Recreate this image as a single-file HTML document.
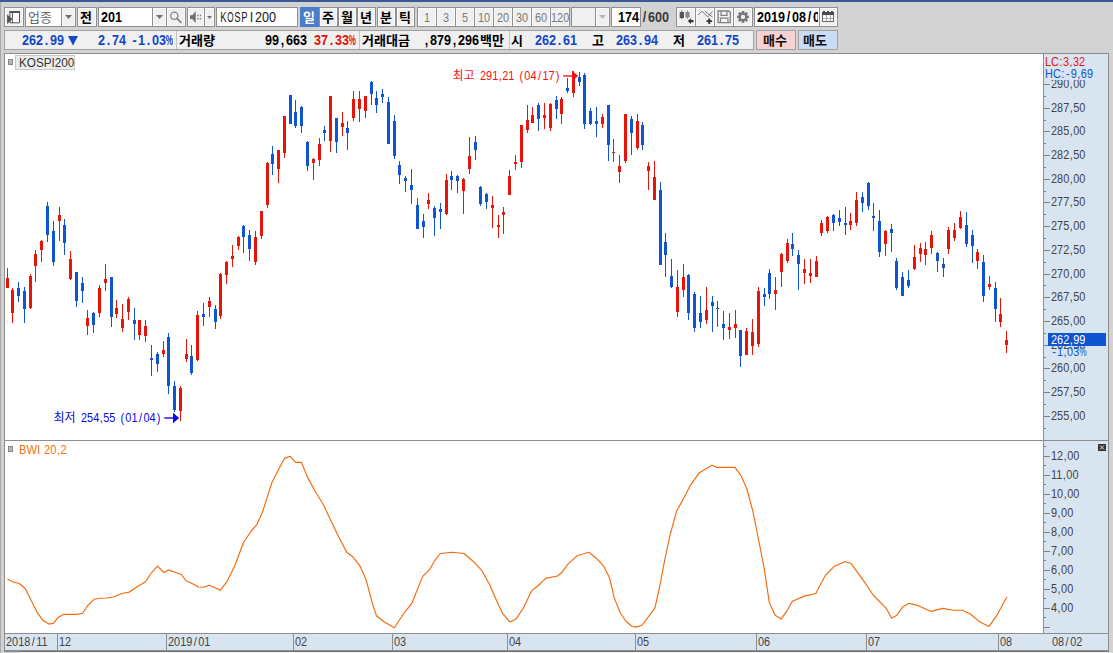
<!DOCTYPE html><html lang="ko"><head><meta charset="utf-8"><title>KOSPI200</title><style>
*{margin:0;padding:0;box-sizing:border-box}
html,body{width:1113px;height:653px;overflow:hidden}
body{position:relative;background:#d2d2d2;font-family:"Liberation Sans",sans-serif;font-size:12px;color:#000}
.abs,.k,.t{position:absolute}
.k{overflow:visible}
.t{white-space:nowrap;line-height:1}
.bx{position:absolute;border:1px solid #8e8e8e}
i{font-style:normal;display:inline-block;text-align:center}
.k text{font-family:"Liberation Sans","Noto Sans CJK KR",sans-serif}
</style></head><body>
<div class="abs" style="left:0;top:0;width:1113px;height:2px;background:#3a5896"></div>
<div class="abs" style="left:0;top:2px;width:1px;height:651px;background:#a9a9a9"></div>
<div class="abs" style="left:4px;top:53px;width:1105px;height:599px;background:#fff;border:1px solid #8c8c8c"></div>
<div class="abs" style="left:1043px;top:54px;width:65px;height:597px;background:#d9e4f1;border-left:1px solid #8e8e8e"></div>
<div class="abs" style="left:5px;top:440px;width:1103px;height:1px;background:#8e8e8e"></div>
<div class="abs" style="left:5px;top:633px;width:1103px;height:18px;background:#d9e4f1;border-top:1px solid #8e8e8e;border-bottom:1px solid #8e8e8e"></div>
<svg class="abs" style="left:0;top:0" width="1113" height="653" viewBox="0 0 1113 653" shape-rendering="crispEdges"><path fill="#e8140a" d="M7 268h1v20h-1zM6 278h3v10h-3zM12 288h1v35h-1zM11 290h3v23h-3zM30 274h1v35h-1zM29 276h3v32h-3zM35 250h1v32h-1zM34 254h3v12h-3zM41 240h1v22h-1zM40 241h3v9h-3zM59 207h1v34h-1zM58 215h3v6h-3zM70 251h1v29h-1zM69 259h3v20h-3zM87 310h1v25h-1zM86 318h3v8h-3zM99 285h1v32h-1zM98 288h3v25h-3zM105 264h1v27h-1zM104 279h3v4h-3zM116 300h1v18h-1zM115 308h3v6h-3zM122 304h1v28h-1zM121 319h3v9h-3zM128 297h1v23h-1zM127 299h3v13h-3zM139 320h1v20h-1zM138 320h3v15h-3zM145 320h1v22h-1zM144 326h3v10h-3zM163 341h1v16h-1zM162 350h3v4h-3zM180 386h1v35h-1zM179 388h3v23h-3zM186 339h1v23h-1zM185 354h3v5h-3zM197 311h1v50h-1zM196 315h3v45h-3zM209 297h1v20h-1zM208 301h3v6h-3zM220 273h1v46h-1zM219 274h3v42h-3zM226 261h1v23h-1zM225 262h3v13h-3zM232 245h1v22h-1zM231 256h3v3h-3zM238 236h1v14h-1zM237 237h3v9h-3zM255 231h1v34h-1zM254 237h3v25h-3zM261 211h1v28h-1zM260 211h3v25h-3zM267 162h1v46h-1zM266 163h3v42h-3zM278 150h1v33h-1zM277 150h3v19h-3zM284 116h1v42h-1zM283 116h3v37h-3zM313 158h1v22h-1zM312 159h3v4h-3zM319 138h1v28h-1zM318 144h3v16h-3zM330 96h1v56h-1zM329 96h3v45h-3zM342 112h1v24h-1zM341 123h3v4h-3zM353 91h1v30h-1zM352 99h3v19h-3zM359 91h1v31h-1zM358 99h3v10h-3zM365 96h1v22h-1zM364 96h3v15h-3zM428 193h1v16h-1zM427 200h3v4h-3zM446 174h1v41h-1zM445 180h3v34h-3zM463 178h1v36h-1zM462 179h3v12h-3zM469 137h1v37h-1zM468 156h3v13h-3zM492 196h1v32h-1zM491 205h3v3h-3zM498 215h1v23h-1zM497 225h3v2h-3zM503 207h1v27h-1zM502 212h3v3h-3zM509 170h1v25h-1zM508 176h3v19h-3zM515 155h1v15h-1zM514 162h3v2h-3zM521 125h1v43h-1zM520 125h3v37h-3zM527 105h1v28h-1zM526 120h3v10h-3zM532 107h1v16h-1zM531 115h3v8h-3zM544 103h1v26h-1zM543 115h3v3h-3zM550 103h1v28h-1zM549 104h3v24h-3zM561 97h1v27h-1zM560 99h3v15h-3zM573 71h1v26h-1zM572 77h3v16h-3zM602 114h1v14h-1zM601 117h3v7h-3zM613 139h1v23h-1zM612 152h3v1h-3zM619 155h1v28h-1zM618 166h3v6h-3zM625 114h1v49h-1zM624 114h3v47h-3zM637 114h1v36h-1zM636 121h3v27h-3zM648 162h1v28h-1zM647 166h3v5h-3zM654 161h1v39h-1zM653 177h3v23h-3zM677 270h1v47h-1zM676 287h3v25h-3zM683 264h1v33h-1zM682 277h3v13h-3zM706 287h1v37h-1zM705 310h3v10h-3zM729 313h1v26h-1zM728 327h3v3h-3zM735 310h1v28h-1zM734 324h3v4h-3zM746 328h1v27h-1zM745 331h3v24h-3zM752 319h1v36h-1zM751 332h3v14h-3zM758 287h1v60h-1zM757 291h3v53h-3zM775 277h1v33h-1zM774 290h3v4h-3zM781 253h1v34h-1zM780 254h3v18h-3zM787 239h1v24h-1zM786 243h3v18h-3zM804 259h1v25h-1zM803 269h3v4h-3zM810 259h1v24h-1zM809 273h3v3h-3zM816 256h1v21h-1zM815 261h3v16h-3zM821 220h1v16h-1zM820 223h3v10h-3zM827 216h1v17h-1zM826 217h3v14h-3zM850 213h1v17h-1zM849 221h3v4h-3zM856 192h1v34h-1zM855 200h3v23h-3zM885 230h1v26h-1zM884 231h3v13h-3zM914 245h1v25h-1zM913 257h3v12h-3zM920 243h1v19h-1zM919 248h3v6h-3zM925 242h1v23h-1zM924 249h3v6h-3zM931 231h1v23h-1zM930 235h3v13h-3zM948 227h1v27h-1zM947 230h3v19h-3zM954 223h1v18h-1zM953 230h3v8h-3zM960 211h1v18h-1zM959 217h3v11h-3zM977 249h1v20h-1zM976 252h3v9h-3zM989 276h1v14h-1zM988 284h3v3h-3zM1000 298h1v29h-1zM999 314h3v8h-3zM1006 331h1v22h-1zM1005 340h3v5h-3z"/><path fill="#0f55cf" d="M18 282h1v20h-1zM17 288h3v8h-3zM24 287h1v36h-1zM23 291h3v18h-3zM47 202h1v40h-1zM46 206h3v29h-3zM53 221h1v45h-1zM52 231h3v31h-3zM64 219h1v36h-1zM63 225h3v18h-3zM76 272h1v35h-1zM75 272h3v29h-3zM82 277h1v26h-1zM81 283h3v8h-3zM93 312h1v21h-1zM92 313h3v12h-3zM111 277h1v50h-1zM110 277h3v40h-3zM134 308h1v32h-1zM133 320h3v4h-3zM151 345h1v31h-1zM150 358h3v2h-3zM157 352h1v20h-1zM156 354h3v10h-3zM168 333h1v61h-1zM167 337h3v49h-3zM174 381h1v31h-1zM173 386h3v24h-3zM191 345h1v30h-1zM190 356h3v17h-3zM203 303h1v23h-1zM202 314h3v3h-3zM215 305h1v24h-1zM214 309h3v13h-3zM243 225h1v28h-1zM242 226h3v11h-3zM249 230h1v31h-1zM248 235h3v14h-3zM272 146h1v29h-1zM271 154h3v10h-3zM290 95h1v29h-1zM289 95h3v29h-3zM295 100h1v28h-1zM294 112h3v14h-3zM301 106h1v27h-1zM300 107h3v19h-3zM307 141h1v30h-1zM306 142h3v24h-3zM324 126h1v15h-1zM323 130h3v3h-3zM336 118h1v35h-1zM335 118h3v24h-3zM347 121h1v29h-1zM346 128h3v5h-3zM371 81h1v24h-1zM370 82h3v12h-3zM376 91h1v22h-1zM375 98h3v7h-3zM382 89h1v14h-1zM381 94h3v3h-3zM388 97h1v47h-1zM387 102h3v42h-3zM394 115h1v44h-1zM393 121h3v35h-3zM399 161h1v23h-1zM398 165h3v10h-3zM405 176h1v16h-1zM404 178h3v3h-3zM411 169h1v35h-1zM410 185h3v5h-3zM417 198h1v31h-1zM416 205h3v24h-3zM423 214h1v24h-1zM422 221h3v6h-3zM434 206h1v30h-1zM433 208h3v10h-3zM440 203h1v26h-1zM439 209h3v3h-3zM451 171h1v19h-1zM450 176h3v4h-3zM457 175h1v18h-1zM456 176h3v5h-3zM475 136h1v24h-1zM474 142h3v8h-3zM480 186h1v20h-1zM479 187h3v17h-3zM486 193h1v16h-1zM485 194h3v8h-3zM538 103h1v28h-1zM537 105h3v14h-3zM556 96h1v23h-1zM555 100h3v9h-3zM567 78h1v15h-1zM566 88h3v3h-3zM579 72h1v14h-1zM578 77h3v5h-3zM584 73h1v56h-1zM583 75h3v49h-3zM590 108h1v17h-1zM589 111h3v13h-3zM596 107h1v30h-1zM595 121h3v3h-3zM608 105h1v56h-1zM607 105h3v40h-3zM631 116h1v39h-1zM630 119h3v14h-3zM642 122h1v28h-1zM641 125h3v20h-3zM660 182h1v83h-1zM659 190h3v75h-3zM665 233h1v44h-1zM664 242h3v13h-3zM671 259h1v29h-1zM670 276h3v11h-3zM688 274h1v46h-1zM687 275h3v38h-3zM694 292h1v40h-1zM693 294h3v34h-3zM700 296h1v32h-1zM699 313h3v9h-3zM712 296h1v36h-1zM711 302h3v4h-3zM717 301h1v26h-1zM716 308h3v1h-3zM723 311h1v29h-1zM722 324h3v4h-3zM740 330h1v37h-1zM739 330h3v26h-3zM764 288h1v18h-1zM763 294h3v3h-3zM769 269h1v30h-1zM768 273h3v21h-3zM792 233h1v23h-1zM791 244h3v5h-3zM798 250h1v40h-1zM797 255h3v9h-3zM833 214h1v17h-1zM832 215h3v8h-3zM839 210h1v16h-1zM838 218h3v4h-3zM845 207h1v28h-1zM844 223h3v2h-3zM862 192h1v20h-1zM861 197h3v6h-3zM868 182h1v28h-1zM867 183h3v23h-3zM873 203h1v28h-1zM872 216h3v2h-3zM879 210h1v47h-1zM878 221h3v31h-3zM891 224h1v28h-1zM890 229h3v4h-3zM896 258h1v32h-1zM895 261h3v27h-3zM902 272h1v24h-1zM901 277h3v19h-3zM908 270h1v18h-1zM907 280h3v6h-3zM937 252h1v20h-1zM936 253h3v8h-3zM943 258h1v19h-1zM942 264h3v4h-3zM966 212h1v35h-1zM965 225h3v19h-3zM972 230h1v33h-1zM971 235h3v11h-3zM983 255h1v47h-1zM982 262h3v34h-3zM995 282h1v40h-1zM994 288h3v21h-3z"/><polyline fill="none" stroke="#f26a0a" stroke-width="1.15" stroke-linejoin="round" shape-rendering="auto" points="7.4,579.0 13.4,582.0 19.3,583.5 25.2,588.5 31.2,600.4 37.1,612.3 43.1,620.6 49.0,624.1 53.5,623.3 57.9,617.6 63.9,614.3 77.2,614.3 82.6,613.2 87.6,605.7 94.4,599.2 99.5,598.3 106.9,598.0 114.3,596.8 121.8,593.5 129.2,592.1 137.2,586.7 145.5,581.7 151.5,572.8 157.4,566.2 163.9,572.5 168.4,570.1 175.2,572.2 181.2,574.5 186.2,580.8 193.0,584.0 198.4,587.0 203.4,587.3 209.4,585.2 220.4,590.3 227.2,581.1 234.6,566.2 243.5,542.5 250.9,531.5 256.9,524.6 262.8,511.3 271.7,483.1 279.2,468.2 284.5,458.4 290.2,456.3 295.5,462.3 301.4,462.3 307.4,477.1 314.8,490.5 323.7,505.3 328.9,516.6 337.8,535.0 346.7,552.3 352.7,556.7 360.1,566.2 366.0,579.6 372.0,601.9 376.4,615.8 383.9,621.8 394.3,627.7 404.6,612.3 412.1,602.8 422.5,576.6 429.9,569.2 434.3,561.2 440.3,553.5 452.2,552.3 464.0,553.5 473.0,561.2 481.9,570.7 489.3,584.0 495.2,597.4 502.7,613.7 510.1,622.0 516.0,619.1 523.5,607.8 531.5,590.9 538.3,585.5 545.7,578.4 557.6,576.0 562.1,572.2 568.0,564.1 576.9,555.8 588.8,552.3 596.2,558.2 603.7,566.2 609.6,578.1 614.1,597.4 620.0,612.3 625.9,621.2 631.9,626.2 636.3,627.1 642.3,625.0 647.4,618.2 654.9,607.8 659.3,588.5 663.8,564.7 669.7,536.5 676.5,511.3 683.1,499.4 690.5,485.1 699.4,472.7 712.2,465.2 716.6,467.3 735.0,467.3 741.0,475.6 746.9,489.0 752.9,511.3 758.8,541.0 764.1,567.7 769.2,601.9 775.1,615.2 781.1,619.1 787.0,610.8 792.4,601.3 804.8,595.9 815.8,593.5 825.6,575.1 834.5,566.2 844.9,561.8 850.9,563.3 862.8,579.6 873.1,595.0 886.5,608.7 891.6,618.2 896.9,615.2 902.8,606.9 908.8,603.3 917.7,605.4 931.1,611.4 942.9,608.4 953.3,610.2 962.2,610.2 970.0,613.7 980.0,622.1 989.0,626.4 996.8,615.4 1006.8,597.0"/><path fill="#808080" d="M1044 428h2v1h-2zM1044 416h6v1h-6zM1044 404h2v1h-2zM1044 392h6v1h-6zM1044 380h2v1h-2zM1044 368h6v1h-6zM1044 357h2v1h-2zM1044 345h6v1h-6zM1044 333h2v1h-2zM1044 321h6v1h-6zM1044 309h2v1h-2zM1044 297h6v1h-6zM1044 285h2v1h-2zM1044 274h6v1h-6zM1044 262h2v1h-2zM1044 250h6v1h-6zM1044 238h2v1h-2zM1044 226h6v1h-6zM1044 214h2v1h-2zM1044 202h6v1h-6zM1044 191h2v1h-2zM1044 179h6v1h-6zM1044 167h2v1h-2zM1044 155h6v1h-6zM1044 143h2v1h-2zM1044 131h6v1h-6zM1044 120h2v1h-2zM1044 108h6v1h-6zM1044 96h2v1h-2zM1044 84h6v1h-6zM1044 627h6v1h-6zM1044 617h2v1h-2zM1044 608h6v1h-6zM1044 598h2v1h-2zM1044 589h6v1h-6zM1044 579h2v1h-2zM1044 570h6v1h-6zM1044 560h2v1h-2zM1044 551h6v1h-6zM1044 541h2v1h-2zM1044 532h6v1h-6zM1044 522h2v1h-2zM1044 513h6v1h-6zM1044 503h2v1h-2zM1044 494h6v1h-6zM1044 484h2v1h-2zM1044 475h6v1h-6zM1044 465h2v1h-2zM1044 456h6v1h-6zM1044 446h2v1h-2z"/><path fill="#8e8e8e" d="M57 634h1v17h-1zM166 634h1v17h-1zM293 634h1v17h-1zM392 634h1v17h-1zM507 634h1v17h-1zM635 634h1v17h-1zM756 634h1v17h-1zM866 634h1v17h-1zM998 634h1v17h-1z"/></svg>
<div class="t" style="left:1051.1px;top:408.63px;font-size:13px;color:#444;transform:scaleX(0.84);transform-origin:0 0;">255<i style="width:4.76px">,</i>00</div>
<div class="t" style="left:1051.1px;top:384.63px;font-size:13px;color:#444;transform:scaleX(0.84);transform-origin:0 0;">257<i style="width:4.76px">,</i>50</div>
<div class="t" style="left:1051.1px;top:360.63px;font-size:13px;color:#444;transform:scaleX(0.84);transform-origin:0 0;">260<i style="width:4.76px">,</i>00</div>
<div class="t" style="left:1051.1px;top:337.63px;font-size:13px;color:#444;transform:scaleX(0.84);transform-origin:0 0;">262<i style="width:4.76px">,</i>50</div>
<div class="t" style="left:1051.1px;top:313.63px;font-size:13px;color:#444;transform:scaleX(0.84);transform-origin:0 0;">265<i style="width:4.76px">,</i>00</div>
<div class="t" style="left:1051.1px;top:289.63px;font-size:13px;color:#444;transform:scaleX(0.84);transform-origin:0 0;">267<i style="width:4.76px">,</i>50</div>
<div class="t" style="left:1051.1px;top:266.63px;font-size:13px;color:#444;transform:scaleX(0.84);transform-origin:0 0;">270<i style="width:4.76px">,</i>00</div>
<div class="t" style="left:1051.1px;top:242.63px;font-size:13px;color:#444;transform:scaleX(0.84);transform-origin:0 0;">272<i style="width:4.76px">,</i>50</div>
<div class="t" style="left:1051.1px;top:218.63px;font-size:13px;color:#444;transform:scaleX(0.84);transform-origin:0 0;">275<i style="width:4.76px">,</i>00</div>
<div class="t" style="left:1051.1px;top:194.63px;font-size:13px;color:#444;transform:scaleX(0.84);transform-origin:0 0;">277<i style="width:4.76px">,</i>50</div>
<div class="t" style="left:1051.1px;top:171.63px;font-size:13px;color:#444;transform:scaleX(0.84);transform-origin:0 0;">280<i style="width:4.76px">,</i>00</div>
<div class="t" style="left:1051.1px;top:147.63px;font-size:13px;color:#444;transform:scaleX(0.84);transform-origin:0 0;">282<i style="width:4.76px">,</i>50</div>
<div class="t" style="left:1051.1px;top:123.63px;font-size:13px;color:#444;transform:scaleX(0.84);transform-origin:0 0;">285<i style="width:4.76px">,</i>00</div>
<div class="t" style="left:1051.1px;top:100.63px;font-size:13px;color:#444;transform:scaleX(0.84);transform-origin:0 0;">287<i style="width:4.76px">,</i>50</div>
<div class="t" style="left:1051.1px;top:76.63px;font-size:13px;color:#444;transform:scaleX(0.84);transform-origin:0 0;">290<i style="width:4.76px">,</i>00</div>
<div class="t" style="left:1051.1px;top:600.63px;font-size:13px;color:#444;transform:scaleX(0.84);transform-origin:0 0;">4<i style="width:4.76px">,</i>00</div>
<div class="t" style="left:1051.1px;top:581.63px;font-size:13px;color:#444;transform:scaleX(0.84);transform-origin:0 0;">5<i style="width:4.76px">,</i>00</div>
<div class="t" style="left:1051.1px;top:562.63px;font-size:13px;color:#444;transform:scaleX(0.84);transform-origin:0 0;">6<i style="width:4.76px">,</i>00</div>
<div class="t" style="left:1051.1px;top:543.63px;font-size:13px;color:#444;transform:scaleX(0.84);transform-origin:0 0;">7<i style="width:4.76px">,</i>00</div>
<div class="t" style="left:1051.1px;top:524.63px;font-size:13px;color:#444;transform:scaleX(0.84);transform-origin:0 0;">8<i style="width:4.76px">,</i>00</div>
<div class="t" style="left:1051.1px;top:505.63px;font-size:13px;color:#444;transform:scaleX(0.84);transform-origin:0 0;">9<i style="width:4.76px">,</i>00</div>
<div class="t" style="left:1051.1px;top:486.63px;font-size:13px;color:#444;transform:scaleX(0.84);transform-origin:0 0;">10<i style="width:4.76px">,</i>00</div>
<div class="t" style="left:1051.1px;top:467.63px;font-size:13px;color:#444;transform:scaleX(0.84);transform-origin:0 0;">11<i style="width:4.76px">,</i>00</div>
<div class="t" style="left:1051.1px;top:448.63px;font-size:13px;color:#444;transform:scaleX(0.84);transform-origin:0 0;">12<i style="width:4.76px">,</i>00</div>
<div class="t" style="left:1045px;top:55.03px;font-size:13px;color:#e8140a;transform:scaleX(0.84);transform-origin:0 0;">LC<i style="width:4.76px">:</i>3<i style="width:4.76px">,</i>32</div>
<div class="t" style="left:1045px;top:67.03px;font-size:13px;color:#0f55cf;transform:scaleX(0.84);transform-origin:0 0;background:#d9e4f1;">HC<i style="width:4.76px">:</i><i style="width:7.14px">-</i>9<i style="width:4.76px">,</i>69</div>
<div class="abs" style="left:1048px;top:333px;width:58px;height:13px;background:#0f55cf"></div>
<div class="t" style="left:1051px;top:333.03px;font-size:13px;color:#fff;transform:scaleX(0.84);transform-origin:0 0;">262<i style="width:4.76px">,</i>99</div>
<div class="t" style="left:1051px;top:345.03px;font-size:13px;color:#0f55cf;transform:scaleX(0.84);transform-origin:0 0;"><i style="width:7.14px">-</i>1<i style="width:4.76px">,</i>03<i style="width:8.93px;text-align:left"><i style="transform:scaleX(.74);transform-origin:0 0">%</i></i></div>
<div class="t" style="left:6px;top:634.53px;font-size:13px;color:#444;transform:scaleX(0.84);transform-origin:0 0;">2018<i style="width:7.14px">/</i>11</div>
<div class="t" style="left:59px;top:634.53px;font-size:13px;color:#444;transform:scaleX(0.84);transform-origin:0 0;">12</div>
<div class="t" style="left:168px;top:634.53px;font-size:13px;color:#444;transform:scaleX(0.84);transform-origin:0 0;">2019<i style="width:7.14px">/</i>01</div>
<div class="t" style="left:295px;top:634.53px;font-size:13px;color:#444;transform:scaleX(0.84);transform-origin:0 0;">02</div>
<div class="t" style="left:394px;top:634.53px;font-size:13px;color:#444;transform:scaleX(0.84);transform-origin:0 0;">03</div>
<div class="t" style="left:509px;top:634.53px;font-size:13px;color:#444;transform:scaleX(0.84);transform-origin:0 0;">04</div>
<div class="t" style="left:637px;top:634.53px;font-size:13px;color:#444;transform:scaleX(0.84);transform-origin:0 0;">05</div>
<div class="t" style="left:758px;top:634.53px;font-size:13px;color:#444;transform:scaleX(0.84);transform-origin:0 0;">06</div>
<div class="t" style="left:868px;top:634.53px;font-size:13px;color:#444;transform:scaleX(0.84);transform-origin:0 0;">07</div>
<div class="t" style="left:1000px;top:634.53px;font-size:13px;color:#444;transform:scaleX(0.84);transform-origin:0 0;">08</div>
<div class="t" style="left:1051.5px;top:634.53px;font-size:13px;color:#444;transform:scaleX(0.84);transform-origin:0 0;">08<i style="width:7.14px">/</i>02</div>
<div class="bx" style="left:4px;top:7px;width:20px;height:20px;background:#f0f0f0;border-color:#8f8f8f;box-shadow:inset 0 0 0 1px #fafafa;"></div>
<svg class="k" style="left:4px;top:7px" width="20" height="20" viewBox="0 0 20 20"><path d="M5.9 4.8h9.6v11h-9.6z" fill="#fff" stroke="#555" stroke-width="1"/><path d="M5.4 4h10.6v2h-10.6z" fill="#555"/><path d="M8.4 5v11" stroke="#555" stroke-width="1"/><path d="M3.1 7.3v9.8l5.3-4.9z" fill="#505050"/></svg>
<div class="bx" style="left:25px;top:7px;width:51px;height:20px;background:#fff;border-color:#8f8f8f;"></div>
<div class="bx" style="left:61px;top:7px;width:15px;height:20px;background:#f0f0f0;border-color:#8f8f8f;box-shadow:inset 0 0 0 1px #fafafa;"></div>
<svg class="k" style="left:65.0px;top:15.0px" width="7" height="4" viewBox="0 0 7 4"><path d="M0 0h7L3.5 4z" fill="#707070"/></svg>
<svg class="k" role="img" aria-label="업종" style="left:28px;top:8.399999999999999px" width="28" height="19" viewBox="0 -14 28 19"><text x="0" y="0" font-size="13" fill="#666">업종</text></svg>
<div class="bx" style="left:77px;top:7px;width:20px;height:20px;background:#f0f0f0;border-color:#8f8f8f;box-shadow:inset 0 0 0 1px #fafafa;"></div>
<svg class="k" role="img" aria-label="전" style="left:80.0px;top:8.3px" width="16" height="19" viewBox="0 -14 16 19"><text x="0" y="0" font-size="13" font-weight="bold" fill="#000">전</text></svg>
<div class="bx" style="left:98px;top:7px;width:69px;height:20px;background:#fff;border-color:#8f8f8f;"></div>
<div class="bx" style="left:152px;top:7px;width:15px;height:20px;background:#f0f0f0;border-color:#8f8f8f;box-shadow:inset 0 0 0 1px #fafafa;"></div>
<svg class="k" style="left:156.0px;top:15.0px" width="7" height="4" viewBox="0 0 7 4"><path d="M0 0h7L3.5 4z" fill="#707070"/></svg>
<div class="t" style="left:100.6px;top:10.29px;font-size:14.5px;font-weight:bold;color:#000;transform:scaleX(0.8683);transform-origin:0 0">201</div>
<div class="bx" style="left:166px;top:7px;width:20px;height:20px;background:#f0f0f0;border-color:#8f8f8f;box-shadow:inset 0 0 0 1px #fafafa;"></div>
<svg class="k" style="left:166px;top:7px" width="20" height="20" viewBox="0 0 20 20"><circle cx="8.3" cy="8.7" r="3.6" fill="none" stroke="#858585" stroke-width="1.3"/><path d="M10.9 11.4l4 4" stroke="#858585" stroke-width="1.8" stroke-linecap="round"/></svg>
<div class="bx" style="left:187px;top:7px;width:18px;height:20px;background:#f0f0f0;border-color:#8f8f8f;box-shadow:inset 0 0 0 1px #fafafa;"></div>
<div class="bx" style="left:204px;top:7px;width:11px;height:20px;background:#f0f0f0;border-color:#8f8f8f;box-shadow:inset 0 0 0 1px #fafafa;"></div>
<svg class="k" style="left:187px;top:7px" width="18" height="20" viewBox="0 0 18 20"><path d="M3 8.2h2.3l3.4-3.9v11.6l-3.4-3.9h-2.3z" fill="#707070"/><path d="M10.2 7.8h1.3v1.4h-1.3zM10.2 11h1.3v1.5h-1.3zM12.8 7.8h1.3v1.4h-1.3zM12.8 11h1.3v1.5h-1.3z" fill="#7a7a7a"/></svg>
<svg class="k" style="left:207.0px;top:15.7px" width="5" height="3" viewBox="0 0 5 3"><path d="M0 0h5L2.5 3z" fill="#707070"/></svg>
<div class="bx" style="left:216px;top:7px;width:82px;height:20px;background:#fff;border-color:#8f8f8f;"></div>
<div class="t" style="left:219.5px;top:10.29px;font-size:14.5px;font-weight:normal;color:#1a1a1a;transform:scaleX(0.8683);transform-origin:0 0"><i style="width:8.06px;text-align:left"><i style="transform:translateX(0.40px) scaleX(0.751);transform-origin:0 0">K</i></i><i style="width:8.06px;text-align:left"><i style="transform:translateX(0.40px) scaleX(0.644);transform-origin:0 0">O</i></i><i style="width:8.06px;text-align:left"><i style="transform:translateX(0.40px) scaleX(0.751);transform-origin:0 0">S</i></i><i style="width:8.06px;text-align:left"><i style="transform:translateX(0.40px) scaleX(0.751);transform-origin:0 0">P</i></i><i style="width:8.06px;text-align:left"><i style="transform:translateX(2.02px) scaleX(1.000);transform-origin:0 0">I</i></i>200</div>
<div class="bx" style="left:300px;top:7px;width:19px;height:20px;background:#4a7cc9;border-color:#4a7cc9;"></div>
<svg class="k" role="img" aria-label="일" style="left:302.6px;top:8.3px" width="16" height="19" viewBox="0 -14 16 19"><text x="0" y="0" font-size="13" font-weight="bold" fill="#fff">일</text></svg>
<div class="bx" style="left:319px;top:7px;width:18.6px;height:20px;background:#f0f0f0;border-color:#8f8f8f;box-shadow:inset 0 0 0 1px #fafafa;"></div>
<svg class="k" role="img" aria-label="주" style="left:321.8px;top:8.3px" width="16" height="19" viewBox="0 -14 16 19"><text x="0" y="0" font-size="13" font-weight="bold" fill="#000">주</text></svg>
<div class="bx" style="left:338px;top:7px;width:18.6px;height:20px;background:#f0f0f0;border-color:#8f8f8f;box-shadow:inset 0 0 0 1px #fafafa;"></div>
<svg class="k" role="img" aria-label="월" style="left:340.8px;top:8.3px" width="16" height="19" viewBox="0 -14 16 19"><text x="0" y="0" font-size="13" font-weight="bold" fill="#000">월</text></svg>
<div class="bx" style="left:357px;top:7px;width:18.6px;height:20px;background:#f0f0f0;border-color:#8f8f8f;box-shadow:inset 0 0 0 1px #fafafa;"></div>
<svg class="k" role="img" aria-label="년" style="left:359.8px;top:8.3px" width="16" height="19" viewBox="0 -14 16 19"><text x="0" y="0" font-size="13" font-weight="bold" fill="#000">년</text></svg>
<div class="bx" style="left:377px;top:7px;width:18.6px;height:20px;background:#f0f0f0;border-color:#8f8f8f;box-shadow:inset 0 0 0 1px #fafafa;"></div>
<svg class="k" role="img" aria-label="분" style="left:379.8px;top:8.3px" width="16" height="19" viewBox="0 -14 16 19"><text x="0" y="0" font-size="13" font-weight="bold" fill="#000">분</text></svg>
<div class="bx" style="left:396px;top:7px;width:18.6px;height:20px;background:#f0f0f0;border-color:#8f8f8f;box-shadow:inset 0 0 0 1px #fafafa;"></div>
<svg class="k" role="img" aria-label="틱" style="left:398.8px;top:8.3px" width="16" height="19" viewBox="0 -14 16 19"><text x="0" y="0" font-size="13" font-weight="bold" fill="#000">틱</text></svg>
<div class="bx" style="left:417px;top:7px;width:20px;height:20px;background:#f0f0f0;border-color:#8f8f8f;box-shadow:inset 0 0 0 1px #fafafa;"></div>
<div class="t" style="left:424.27500000000003px;top:10.73px;font-size:13px;color:#7a7a7a;transform:scaleX(0.84);transform-origin:0 0;">1</div>
<div class="bx" style="left:436px;top:7px;width:20px;height:20px;background:#f0f0f0;border-color:#8f8f8f;box-shadow:inset 0 0 0 1px #fafafa;"></div>
<div class="t" style="left:443.27500000000003px;top:10.73px;font-size:13px;color:#7a7a7a;transform:scaleX(0.84);transform-origin:0 0;">3</div>
<div class="bx" style="left:455px;top:7px;width:20px;height:20px;background:#f0f0f0;border-color:#8f8f8f;box-shadow:inset 0 0 0 1px #fafafa;"></div>
<div class="t" style="left:462.27500000000003px;top:10.73px;font-size:13px;color:#7a7a7a;transform:scaleX(0.84);transform-origin:0 0;">5</div>
<div class="bx" style="left:474px;top:7px;width:20px;height:20px;background:#f0f0f0;border-color:#8f8f8f;box-shadow:inset 0 0 0 1px #fafafa;"></div>
<div class="t" style="left:478.25px;top:10.73px;font-size:13px;color:#7a7a7a;transform:scaleX(0.84);transform-origin:0 0;">10</div>
<div class="bx" style="left:493px;top:7px;width:20px;height:20px;background:#f0f0f0;border-color:#8f8f8f;box-shadow:inset 0 0 0 1px #fafafa;"></div>
<div class="t" style="left:497.25px;top:10.73px;font-size:13px;color:#7a7a7a;transform:scaleX(0.84);transform-origin:0 0;">20</div>
<div class="bx" style="left:512px;top:7px;width:20px;height:20px;background:#f0f0f0;border-color:#8f8f8f;box-shadow:inset 0 0 0 1px #fafafa;"></div>
<div class="t" style="left:516.25px;top:10.73px;font-size:13px;color:#7a7a7a;transform:scaleX(0.84);transform-origin:0 0;">30</div>
<div class="bx" style="left:531px;top:7px;width:20px;height:20px;background:#f0f0f0;border-color:#8f8f8f;box-shadow:inset 0 0 0 1px #fafafa;"></div>
<div class="t" style="left:535.25px;top:10.73px;font-size:13px;color:#7a7a7a;transform:scaleX(0.84);transform-origin:0 0;">60</div>
<div class="bx" style="left:550px;top:7px;width:20px;height:20px;background:#f0f0f0;border-color:#8f8f8f;box-shadow:inset 0 0 0 1px #fafafa;"></div>
<div class="t" style="left:551.2249999999999px;top:10.73px;font-size:13px;color:#7a7a7a;transform:scaleX(0.84);transform-origin:0 0;">120</div>
<div class="bx" style="left:571px;top:7px;width:39px;height:20px;background:#f0f0f0;border-color:#8f8f8f;"></div>
<div class="bx" style="left:595px;top:7px;width:15px;height:20px;background:#f0f0f0;border-color:#8f8f8f;box-shadow:inset 0 0 0 1px #fafafa;"></div>
<svg class="k" style="left:599.0px;top:15.0px" width="7" height="4" viewBox="0 0 7 4"><path d="M0 0h7L3.5 4z" fill="#b8b8b8"/></svg>
<div class="bx" style="left:611px;top:7px;width:30px;height:20px;background:#fff;border-color:#8f8f8f;"></div>
<div class="t" style="left:618.3px;top:10.29px;font-size:14.5px;font-weight:bold;color:#000;transform:scaleX(0.8683);transform-origin:0 0">174</div>
<div class="t" style="left:640.8px;top:10.29px;font-size:14.5px;font-weight:bold;color:#3a3a3a;transform:scaleX(0.8683);transform-origin:0 0"><i style="width:8.06px">/</i>600</div>
<div class="bx" style="left:676px;top:7px;width:20px;height:20px;background:#f0f0f0;border-color:#8f8f8f;box-shadow:inset 0 0 0 1px #fafafa;"></div>
<div class="bx" style="left:695px;top:7px;width:20px;height:20px;background:#f0f0f0;border-color:#8f8f8f;box-shadow:inset 0 0 0 1px #fafafa;"></div>
<div class="bx" style="left:714px;top:7px;width:20px;height:20px;background:#f0f0f0;border-color:#8f8f8f;box-shadow:inset 0 0 0 1px #fafafa;"></div>
<div class="bx" style="left:733px;top:7px;width:20px;height:20px;background:#f0f0f0;border-color:#8f8f8f;box-shadow:inset 0 0 0 1px #fafafa;"></div>
<svg class="k" style="left:676px;top:7px" width="20" height="20" viewBox="0 0 20 20"><path d="M3.7 5h4.3v6h-4.3zM5.3 3.4h1v8.6h-1z" fill="#555"/><path d="M9.4 5h4.2v5.4h-4.2zM10.9 3.4h1v8.6h-1z" fill="#8a8a8a"/><path d="M11.8 14.1l3.2-2.8v1.7h2.5v2.2h-2.5v1.7z" fill="#333"/></svg>
<svg class="k" style="left:695px;top:7px" width="20" height="20" viewBox="0 0 20 20"><path d="M3 8L7 4.2L12.8 10L17.5 4.3M10 4.3L17.5 10" fill="none" stroke="#7a7a7a" stroke-width="1"/><path d="M13.3 11.4h1.9v1.8h1.9v1.9h-1.9v1.8h-1.9v-1.8h-1.9v-1.9h1.9z" fill="#333"/></svg>
<svg class="k" style="left:714px;top:7px" width="20" height="20" viewBox="0 0 20 20"><path d="M4.1 4h10.6l1.6 1.6v10h-12.2z" fill="#f4f4f4" stroke="#808080" stroke-width="1.3"/><path d="M7 4v4.3h6v-4.3M6.4 15.6v-4.4h7.6v4.4" fill="none" stroke="#808080" stroke-width="1.2"/></svg>
<svg class="k" style="left:733px;top:7px" width="20" height="20" viewBox="0 0 20 20"><g transform="translate(10 9.9)" fill="#767676"><rect x="-1.3" y="-5.9" width="2.6" height="3" transform="rotate(0)" /><rect x="-1.3" y="-5.9" width="2.6" height="3" transform="rotate(45)" /><rect x="-1.3" y="-5.9" width="2.6" height="3" transform="rotate(90)" /><rect x="-1.3" y="-5.9" width="2.6" height="3" transform="rotate(135)" /><rect x="-1.3" y="-5.9" width="2.6" height="3" transform="rotate(180)" /><rect x="-1.3" y="-5.9" width="2.6" height="3" transform="rotate(225)" /><rect x="-1.3" y="-5.9" width="2.6" height="3" transform="rotate(270)" /><rect x="-1.3" y="-5.9" width="2.6" height="3" transform="rotate(315)" /><circle r="4.3"/><circle r="2.2" fill="#f0f0f0"/></g></svg>
<div class="bx" style="left:754px;top:7px;width:84px;height:20px;background:#fff;border-color:#8f8f8f;"></div>
<div class="abs" style="left:756px;top:8px;width:62px;height:18px;overflow:hidden"><div class="t" style="left:1.4px;top:2.29px;font-size:14.5px;font-weight:bold;color:#000;transform:scaleX(0.8683);transform-origin:0 0">2019<i style="width:8.06px">/</i>08<i style="width:8.06px">/</i>02</div></div>
<div class="bx" style="left:819px;top:7px;width:19px;height:20px;background:#f0f0f0;border-color:#8f8f8f;box-shadow:inset 0 0 0 1px #fafafa;"></div>
<svg class="k" style="left:819px;top:7px" width="19" height="20" viewBox="0 0 19 20" shape-rendering="crispEdges"><path d="M3.5 5.5h11v9h-11z" fill="#f8f8f8" stroke="#6a6a6a"/><path d="M3 5h12v3h-12zM4 4h2v1h-2zM8 4h2v1h-2zM12 4h2v1h-2z" fill="#4a4a4a"/><path d="M7.5 8v6M11.5 8v6M4 11.5h10" stroke="#aaa"/></svg>
<div class="bx" style="left:4px;top:30px;width:750px;height:20px;background:#f0f0f0;border-color:#a2a2a2;"></div>
<div class="abs" style="left:176px;top:31px;width:1px;height:18px;background:#c4c4c4"></div>
<div class="abs" style="left:359px;top:31px;width:1px;height:18px;background:#c4c4c4"></div>
<div class="abs" style="left:509px;top:31px;width:1px;height:18px;background:#c4c4c4"></div>
<div class="t" style="left:22px;top:32.79px;font-size:14.5px;font-weight:bold;color:#1447c8;transform:scaleX(0.8683);transform-origin:0 0">262<i style="width:8.06px">.</i>99</div>
<svg class="k" style="left:67.8px;top:35.85px" width="10" height="9.5" viewBox="0 0 10 9.5"><path d="M0 0h10L5.0 9.5z" fill="#1447c8"/></svg>
<div class="t" style="left:98px;top:32.79px;font-size:14.5px;font-weight:bold;color:#1447c8;transform:scaleX(0.8683);transform-origin:0 0">2<i style="width:8.06px">.</i>74</div>
<div class="t" style="left:131.3px;top:32.79px;font-size:14.5px;font-weight:bold;color:#1447c8;transform:scaleX(0.8683);transform-origin:0 0"><i style="width:8.06px">-</i>1<i style="width:8.06px">.</i>03<i style="width:8.06px;text-align:left"><i style="transform:scaleX(.64);transform-origin:0 0">%</i></i></div>
<svg class="k" role="img" aria-label="거래량" style="left:178.5px;top:31px" width="42" height="19" viewBox="0 -14 42 19"><text x="0" y="0" font-size="13" font-weight="bold" fill="#000">거래량</text></svg>
<div class="t" style="left:264.5px;top:32.79px;font-size:14.5px;font-weight:bold;color:#000;transform:scaleX(0.8683);transform-origin:0 0">99<i style="width:8.06px">,</i>663</div>
<div class="t" style="left:314px;top:32.79px;font-size:14.5px;font-weight:bold;color:#e0160e;transform:scaleX(0.8683);transform-origin:0 0">37<i style="width:8.06px">.</i>33<i style="width:8.06px;text-align:left"><i style="transform:scaleX(.64);transform-origin:0 0">%</i></i></div>
<svg class="k" role="img" aria-label="거래대금" style="left:362px;top:31px" width="55" height="19" viewBox="0 -14 55 19"><text x="0" y="0" font-size="13" font-weight="bold" fill="#000">거래대금</text></svg>
<div class="t" style="left:423px;top:32.79px;font-size:14.5px;font-weight:bold;color:#000;transform:scaleX(0.8683);transform-origin:0 0"><i style="width:8.06px">,</i>879<i style="width:8.06px">,</i>296</div>
<svg class="k" role="img" aria-label="백만" style="left:480px;top:31px" width="29" height="19" viewBox="0 -14 29 19"><text x="0" y="0" font-size="13" font-weight="bold" fill="#000">백만</text></svg>
<svg class="k" role="img" aria-label="시" style="left:510.5px;top:31px" width="16" height="19" viewBox="0 -14 16 19"><text x="0" y="0" font-size="13" font-weight="bold" fill="#000">시</text></svg>
<div class="t" style="left:535.3px;top:32.79px;font-size:14.5px;font-weight:bold;color:#1447c8;transform:scaleX(0.8683);transform-origin:0 0">262<i style="width:8.06px">.</i>61</div>
<svg class="k" role="img" aria-label="고" style="left:591.5px;top:31px" width="16" height="19" viewBox="0 -14 16 19"><text x="0" y="0" font-size="13" font-weight="bold" fill="#000">고</text></svg>
<div class="t" style="left:616.2px;top:32.79px;font-size:14.5px;font-weight:bold;color:#1447c8;transform:scaleX(0.8683);transform-origin:0 0">263<i style="width:8.06px">.</i>94</div>
<svg class="k" role="img" aria-label="저" style="left:672.5px;top:31px" width="16" height="19" viewBox="0 -14 16 19"><text x="0" y="0" font-size="13" font-weight="bold" fill="#000">저</text></svg>
<div class="t" style="left:696.7px;top:32.79px;font-size:14.5px;font-weight:bold;color:#1447c8;transform:scaleX(0.8683);transform-origin:0 0">261<i style="width:8.06px">.</i>75</div>
<div class="bx" style="left:756px;top:30px;width:40px;height:20px;background:#f6d2d0;border-color:#a2a2a2;"></div>
<svg class="k" role="img" aria-label="매수" style="left:763.3px;top:31.299999999999997px" width="30" height="19" viewBox="0 -14 30 19"><text x="0" y="0" font-size="13" font-weight="bold" fill="#111">매수</text></svg>
<div class="bx" style="left:798px;top:30px;width:40px;height:20px;background:#c9def6;border-color:#a2a2a2;"></div>
<svg class="k" role="img" aria-label="매도" style="left:803.3px;top:31.299999999999997px" width="30" height="19" viewBox="0 -14 30 19"><text x="0" y="0" font-size="13" font-weight="bold" fill="#111">매도</text></svg>
<div class="abs" style="left:8px;top:59px;width:5px;height:6px;background:#b8b8b8;border:1px solid #888"></div>
<div class="abs" style="left:15px;top:55px;width:60px;height:15px;background:#ececec;border:1px solid #c8c8c8"></div>
<div class="t" style="left:19px;top:55.83px;font-size:13px;color:#333;transform:scaleX(0.9);transform-origin:0 0;">KOSPI200</div>
<div class="abs" style="left:8px;top:446px;width:5px;height:6px;background:#b8b8b8;border:1px solid #888"></div>
<div class="t" style="left:19px;top:442.53px;font-size:13px;color:#f4720f;transform:scaleX(0.86);transform-origin:0 0;">BWI<i style="width:4.65px"> </i>20<i style="width:4.65px">,</i>2</div>
<svg class="k" role="img" aria-label="최고" style="left:452.3px;top:67.2px" width="27" height="18" viewBox="0 -13 27 18"><text x="0.5" y="0" font-size="12" fill="#f01212">최고</text></svg>
<div class="t" style="left:480.3px;top:68.73px;font-size:13px;color:#f01212;transform:scaleX(0.84);transform-origin:0 0;">291<i style="width:4.76px">,</i>21<i style="width:4.76px"> </i><i style="width:7.14px">(</i>04<i style="width:7.14px">/</i>17<i style="width:7.14px">)</i></div>
<svg class="k" style="left:562px;top:70px" width="18" height="13" viewBox="0 0 18 13"><path d="M1.3 5.3h9v1.4h-9z" fill="#f01212"/><path d="M10 0.8l6.2 5.2-6.2 5.2z" fill="#f01212"/></svg>
<svg class="k" role="img" aria-label="최저" style="left:53px;top:409.2px" width="27" height="18" viewBox="0 -13 27 18"><text x="0.5" y="0" font-size="12" fill="#0a0ae6">최저</text></svg>
<div class="t" style="left:81px;top:410.73px;font-size:13px;color:#0a0ae6;transform:scaleX(0.84);transform-origin:0 0;">254<i style="width:4.76px">,</i>55<i style="width:4.76px"> </i><i style="width:7.14px">(</i>01<i style="width:7.14px">/</i>04<i style="width:7.14px">)</i></div>
<svg class="k" style="left:163px;top:412px" width="18" height="13" viewBox="0 0 18 13"><path d="M1.3 5.3h9v1.4h-9z" fill="#0a0ae6"/><path d="M10 0.8l6.2 5.2-6.2 5.2z" fill="#0a0ae6"/></svg>
<div class="abs" style="left:1098px;top:444px;width:8px;height:7px;background:#333"></div>
<svg class="k" style="left:1098px;top:444px" width="8" height="7" viewBox="0 0 8 7"><path d="M2 1.5l4 4M6 1.5l-4 4" stroke="#eee" stroke-width="1"/></svg>
<div class="abs" style="left:20px;top:652px;width:1088px;height:1px;background:#f6f6f6"></div>
<div class="abs" style="left:20px;top:651px;width:1088px;height:1px;background:#707070"></div>
</body></html>
